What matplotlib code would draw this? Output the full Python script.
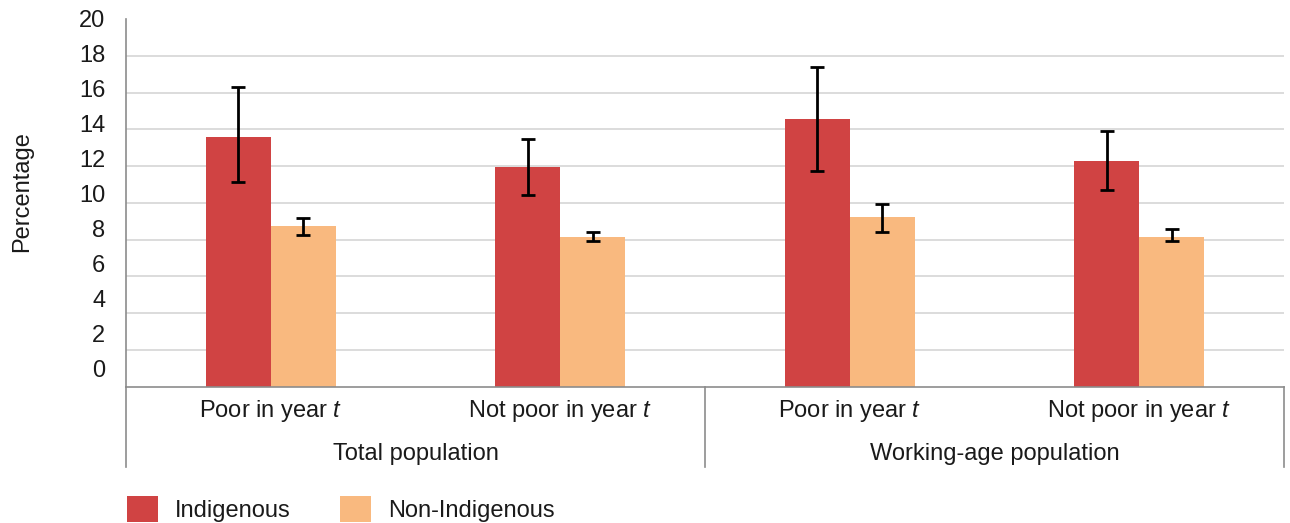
import numpy as np
import matplotlib
matplotlib.use("Agg")
import matplotlib.pyplot as plt
from matplotlib.lines import Line2D
from matplotlib.patches import Patch
import matplotlib.transforms as mtransforms

plt.rcParams["font.family"] = ["Liberation Sans", "DejaVu Sans"]
plt.rcParams["mathtext.fontset"] = "custom"
plt.rcParams["mathtext.rm"] = "Liberation Sans"
plt.rcParams["mathtext.it"] = "Liberation Sans:italic"

# Data
categories = ["Poor in year $t$", "Not poor in year $t$",
              "Poor in year $t$", "Not poor in year $t$"]
groups = ["Total population", "Working-age population"]
series_names = ["Indigenous", "Non-Indigenous"]

indigenous = [13.6, 11.95, 14.55, 12.25]
indigenous_low = [11.15, 10.4, 11.75, 10.7]
indigenous_high = [16.3, 13.45, 17.4, 13.9]

non_indigenous = [8.75, 8.15, 9.25, 8.15]
non_indigenous_low = [8.25, 7.95, 8.4, 7.95]
non_indigenous_high = [9.15, 8.4, 9.95, 8.6]

y_ticks = [0, 2, 4, 6, 8, 10, 12, 14, 16, 18, 20]

RED = "#D04343"
ORANGE = "#F9B97F"
GRID = "#D9D9D9"
AXIS = "#8C8C8C"
TEXT = "#1a1a1a"
FS = 17

fig = plt.figure(figsize=(12.9, 5.23), dpi=100)
ax = fig.add_axes([126 / 1290, 1 - 386.7 / 523, (1284 - 126) / 1290, (386.7 - 19) / 523])

x = np.arange(len(categories))
w = 0.224

ind = np.array(indigenous)
non = np.array(non_indigenous)
ind_err = [ind - np.array(indigenous_low), np.array(indigenous_high) - ind]
non_err = [non - np.array(non_indigenous_low), np.array(non_indigenous_high) - non]

ax.bar(x - w / 2, ind, w, color=RED, zorder=2)
ax.bar(x + w / 2, non, w, color=ORANGE, zorder=2)
for xs, vals, err in [(x - w / 2, ind, ind_err), (x + w / 2, non, non_err)]:
    ax.errorbar(xs, vals, yerr=err, fmt="none", ecolor="black",
                elinewidth=2.0, capsize=5, capthick=2.0, zorder=3)

ax.set_xlim(-0.5, len(categories) - 0.5)
ax.set_ylim(0, 20)

# Gridlines on the even values, labels set slightly apart from them
ax.set_yticks(y_ticks[1:], minor=True)
ax.yaxis.grid(True, which="minor", color=GRID, linewidth=1.3, zorder=0)
label_pos = [1 + 0.95 * v for v in y_ticks]
ax.set_yticks(label_pos, [str(v) for v in y_ticks])
ax.tick_params(axis="y", which="both", length=0, labelsize=FS, pad=15,
               labelcolor=TEXT)

ax.set_xticks([])
for s in ["top", "right"]:
    ax.spines[s].set_visible(False)
for s in ["left", "bottom"]:
    ax.spines[s].set_color(AXIS)
    ax.spines[s].set_linewidth(1.2)

# Two-level category axis below the plot
trans = mtransforms.blended_transform_factory(ax.transData, ax.transAxes)
px = 1 / (386.7 - 19)
for i, lab in enumerate(categories):
    ax.text(x[i], -(411 - 386.7) * px, lab, transform=trans, ha="center",
            va="center", fontsize=FS, color=TEXT)
for g, lab in enumerate(groups):
    ax.text(2 * g + 0.5, -(454 - 386.7) * px, lab, transform=trans,
            ha="center", va="center", fontsize=FS, color=TEXT)

y_bot = -(467 - 386.7) * px
for xv in [-0.5, 1.5, 3.5]:
    ax.add_line(Line2D([xv, xv], [0, y_bot], transform=trans, color=AXIS,
                       linewidth=1.2, clip_on=False))

fig.text(22 / 1290, 1 - 192 / 523, "Percentage", rotation=90, ha="center",
         va="center", fontsize=FS, color=TEXT)

handles = [Patch(facecolor=RED, edgecolor="none"),
           Patch(facecolor=ORANGE, edgecolor="none")]
fig.legend(handles, series_names, loc="lower left",
           bbox_to_anchor=(127 / 1290, 1 / 523), ncol=2, frameon=False,
           fontsize=FS, handlelength=1.31, handleheight=1.31,
           handletextpad=0.72, columnspacing=2.1, borderpad=0,
           borderaxespad=0, labelcolor=TEXT)

fig.savefig("out.png", dpi=100)
